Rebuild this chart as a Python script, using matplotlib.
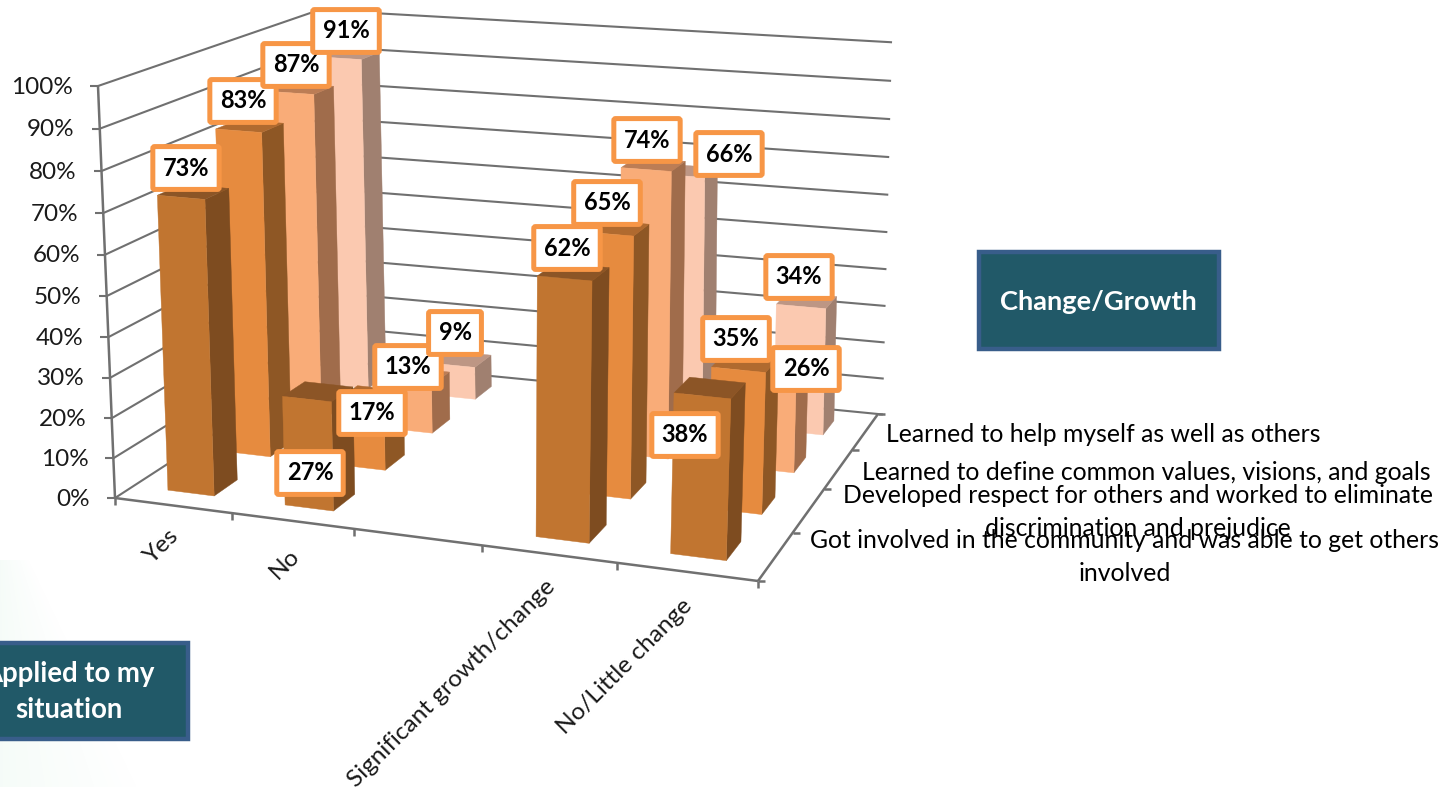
import numpy as np
import matplotlib
matplotlib.use("Agg")
import matplotlib.pyplot as plt
from matplotlib.patches import Polygon, Rectangle

plt.rcParams["font.family"] = ["Lato", "DejaVu Sans"]

# chart values
categories = ["Yes", "No", "", "Significant growth/change", "No/Little change"]
series_names = [
    "Got involved in the community and was able to get others\ninvolved",
    "Developed respect for others and worked to eliminate\ndiscrimination and prejudice",
    "Learned to define common values, visions, and goals",
    "Learned to help myself as well as others",
]
got_involved = [73, 27, None, 62, 38]
developed_respect = [83, 17, None, 65, 35]
learned_define = [87, 13, None, 74, 26]
learned_help = [91, 9, None, 66, 34]
series_values = [got_involved, developed_respect, learned_define, learned_help]
percent_ticks = list(range(0, 101, 10))

# face, right side, top colours per series
series_colors = [
    ("#C17530", "#7E4C20", "#8C5526"),
    ("#E68B3F", "#8E5725", "#B06A2F"),
    ("#F9AC78", "#A06C4B", "#BC7D55"),
    ("#FBC9B0", "#A08070", "#BD9684"),
]
grid_color = "#707070"
text_color = "#1A1A1A"
label_edge = "#F79646"
box_fill = "#215968"
box_edge = "#385D8A"

# corners of the 3d box on the canvas: front-left, front-right, back-right, back-left
floor_corners = [(115, 498), (758, 581), (878, 414), (328, 360)]
roof_corners = [(98, 86), (773, 136), (887, 42), (319, 10)]

# data labels were dragged around by hand in the original, centre of each box
label_pos = [
    [(186, 168), (310, 473), None, (567, 248), (685, 435)],
    [(243, 101), (372, 413), None, (607, 203), (736, 339)],
    [(296, 65), (408, 367), None, (647, 140), (806, 369)],
    [(346, 31), (455, 333), None, (729, 154), (799, 277)],
]


def homography(corners):
    unit = [(0, 0), (1, 0), (1, 1), (0, 1)]
    A, b = [], []
    for (u, v), (x, y) in zip(unit, corners):
        A.append([u, v, 1, 0, 0, 0, -u * x, -v * x])
        A.append([0, 0, 0, u, v, 1, -u * y, -v * y])
        b += [x, y]
    return np.append(np.linalg.solve(np.array(A, float), np.array(b, float)), 1).reshape(3, 3)


H_floor = homography(floor_corners)
H_roof = homography(roof_corners)
n_cat = len(categories)
n_ser = len(series_values)


def project(cat, ser, pct):
    p = np.array([cat / n_cat, ser / n_ser, 1.0])
    a = H_floor @ p
    c = H_roof @ p
    z = pct / 100
    t = z - 0.04 * z * (1 - z)  # upper part of the wall is a bit closer to the camera
    return tuple((1 - t) * a[:2] / a[2] + t * c[:2] / c[2])


fig = plt.figure(figsize=(14.43, 7.87), dpi=100)
ax = fig.add_axes([0, 0, 1, 1])

# faint green slide background in the lower left corner
yy, xx = np.mgrid[560:787, 0:400]
fade = np.clip(1 - (xx / (30 + (yy - 560) * 0.5)), 0, 1) * 0.08
bg = np.zeros(xx.shape + (4,))
bg[..., :3] = (0.55, 0.85, 0.68)
bg[..., 3] = fade
ax.imshow(bg, extent=(0, 400, 787, 560), zorder=0, aspect="auto")
ax.set_xlim(0, 1443)
ax.set_ylim(787, 0)
ax.axis("off")


def line(p, q, lw=1.5):
    ax.plot([p[0], q[0]], [p[1], q[1]], color=grid_color, lw=lw, zorder=1,
            solid_capstyle="butt")


# walls
for pct in percent_ticks:
    line(project(0, 0, pct), project(0, n_ser, pct))
    line(project(0, n_ser, pct), project(n_cat + 0.04, n_ser, pct))
    x, y = project(0, 0, pct)
    line((x - 8, y), (x, y))
    ax.text(x - 25, y + 1, f"{pct}%", ha="right", va="center", fontsize=17.5, color=text_color)

# axes
line(project(0, 0, 0), project(0, 0, 100), 1.8)
line(project(0, 0, 0), project(n_cat, 0, 0), 1.8)
line(project(n_cat, 0, 0), project(n_cat, n_ser, 0), 1.8)

for i in range(n_cat + 1):
    x, y = project(i, 0, 0)
    line((x, y), (x, y + 7), 1.8)
for j in range(n_ser + 1):
    x, y = project(n_cat, j, 0)
    line((x, y), (x + 7, y), 1.8)

# bars, back to front
bar_lo, bar_hi = 0.3, 0.7
zo = 2
for j in range(n_ser - 1, -1, -1):
    face, side, top = series_colors[j]
    for i, val in enumerate(series_values[j]):
        if val is None:
            continue
        u0, u1 = i + bar_lo, i + bar_hi
        v0, v1 = j + bar_lo, j + bar_hi
        ax.add_patch(Polygon([project(u1, v0, 0), project(u1, v1, 0),
                              project(u1, v1, val), project(u1, v0, val)],
                             fc=side, ec=side, lw=0.3, zorder=zo))
        ax.add_patch(Polygon([project(u0, v0, val), project(u1, v0, val),
                              project(u1, v1, val), project(u0, v1, val)],
                             fc=top, ec=top, lw=0.3, zorder=zo))
        ax.add_patch(Polygon([project(u0, v0, 0), project(u1, v0, 0),
                              project(u1, v0, val), project(u0, v0, val)],
                             fc=face, ec=face, lw=0.3, zorder=zo))
        zo += 1

# data labels on top of everything
for j in range(n_ser):
    for i, val in enumerate(series_values[j]):
        if val is None:
            continue
        x, y = label_pos[j][i]
        ax.text(x, y, f"{val}%", ha="center", va="center", fontsize=17, fontweight="bold",
                color="black", zorder=50,
                bbox=dict(boxstyle="round,pad=0.42,rounding_size=0.08", fc="white",
                          ec=label_edge, lw=3.6))

# category labels
cat_pos = [(161, 547), (285, 564), None, (452, 683), (625, 666)]
for name, pos in zip(categories, cat_pos):
    if pos is None:
        continue
    ax.text(pos[0], pos[1], name, rotation=45, ha="center", va="center",
            fontsize=17.6, color=text_color, rotation_mode="anchor")

# series labels
series_pos = [(1125, 557), (1138, 512), (1146, 473), (1103, 435)]
for name, pos in zip(series_names, series_pos):
    ax.text(pos[0], pos[1], name, ha="center", va="center", fontsize=17.8,
            color="black", linespacing=1.5, zorder=60)

# text boxes
ax.add_patch(Rectangle((979, 252), 240, 97, fc=box_fill, ec=box_edge, lw=3.2, zorder=3))
ax.text(1098, 302, "Change/Growth", ha="center", va="center", fontsize=19.6,
        fontweight="bold", color="white", zorder=4)
ax.add_patch(Rectangle((-20, 643), 208, 96, fc=box_fill, ec=box_edge, lw=3.2, zorder=3))
ax.text(69, 692, "Applied to my\nsituation", ha="center", va="center", fontsize=19.8,
        fontweight="bold", color="white", linespacing=1.5, zorder=4)

fig.savefig("out.png", dpi=100)
